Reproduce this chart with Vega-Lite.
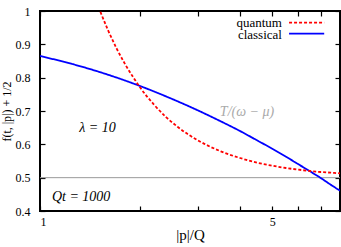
{
  "$schema": "https://vega.github.io/schema/vega-lite/v6.json",
  "width": 300,
  "height": 200,
  "autosize": {"type": "none"},
  "padding": {"left": 40, "top": 11, "right": 1, "bottom": 36},
  "background": "white",
  "config": {
    "view": {"stroke": "black", "strokeWidth": 2},
    "font": "Liberation Serif",
    "axis": {"domain": false, "tickColor": "black", "tickSize": 5, "tickWidth": 1.2, "offset": -5, "labelFont": "Liberation Serif", "labelFontSize": 12, "labelColor": "black", "titleFont": "Liberation Serif", "titleFontSize": 13, "titleFontWeight": "normal", "titleColor": "black", "grid": false}
  },
  "layer": [
    {
      "data": {"values": [{}]},
      "mark": {"type": "rule", "color": "#999999", "strokeWidth": 1},
      "encoding": {
        "y": {"datum": 0.5, "type": "quantitative", "scale": {"domain": [0.4, 1], "nice": false, "zero": false},
          "axis": {"orient": "right", "labels": false, "title": null, "values": [0.4, 0.5, 0.6, 0.7, 0.8, 0.9, 1]}}
      }
    },
    {
      "data": {"values": [
        {"p": 1, "f": 0.865, "series": "classical"},
        {"p": 1.25, "f": 0.841, "series": "classical"},
        {"p": 1.5, "f": 0.818, "series": "classical"},
        {"p": 1.75, "f": 0.796, "series": "classical"},
        {"p": 2, "f": 0.775, "series": "classical"},
        {"p": 2.5, "f": 0.736, "series": "classical"},
        {"p": 3, "f": 0.701, "series": "classical"},
        {"p": 3.5, "f": 0.669, "series": "classical"},
        {"p": 4, "f": 0.64, "series": "classical"},
        {"p": 4.5, "f": 0.612, "series": "classical"},
        {"p": 5, "f": 0.587, "series": "classical"},
        {"p": 5.5, "f": 0.563, "series": "classical"},
        {"p": 6, "f": 0.54, "series": "classical"},
        {"p": 6.5, "f": 0.519, "series": "classical"},
        {"p": 7, "f": 0.499, "series": "classical"},
        {"p": 7.5, "f": 0.479, "series": "classical"},
        {"p": 8, "f": 0.461, "series": "classical"},
        {"p": 1.5, "f": 1.012, "series": "quantum"},
        {"p": 1.6, "f": 0.944, "series": "quantum"},
        {"p": 1.7, "f": 0.888, "series": "quantum"},
        {"p": 1.8, "f": 0.842, "series": "quantum"},
        {"p": 1.9, "f": 0.804, "series": "quantum"},
        {"p": 2.0, "f": 0.771, "series": "quantum"},
        {"p": 2.2, "f": 0.72, "series": "quantum"},
        {"p": 2.4, "f": 0.681, "series": "quantum"},
        {"p": 2.6, "f": 0.652, "series": "quantum"},
        {"p": 2.8, "f": 0.629, "series": "quantum"},
        {"p": 3.0, "f": 0.611, "series": "quantum"},
        {"p": 3.5, "f": 0.579, "series": "quantum"},
        {"p": 4.0, "f": 0.559, "series": "quantum"},
        {"p": 4.5, "f": 0.545, "series": "quantum"},
        {"p": 5.0, "f": 0.536, "series": "quantum"},
        {"p": 5.5, "f": 0.529, "series": "quantum"},
        {"p": 6.0, "f": 0.524, "series": "quantum"},
        {"p": 6.5, "f": 0.52, "series": "quantum"},
        {"p": 7.0, "f": 0.517, "series": "quantum"},
        {"p": 7.5, "f": 0.515, "series": "quantum"},
        {"p": 8, "f": 0.513, "series": "quantum"}
      ]},
      "mark": {"type": "line", "strokeWidth": 1.8, "clip": true, "interpolate": "monotone"},
      "encoding": {
        "x": {"field": "p", "type": "quantitative",
          "scale": {"type": "log", "domain": [1, 8], "nice": false},
          "axis": {"orient": "bottom", "values": [1, 2, 3, 4, 5, 6, 7, 8], "labelExpr": "datum.value == 1 || datum.value == 5 ? datum.label : ''", "title": "|p|/Q", "titleFontSize": 15, "titlePadding": 0, "labelPadding": 5}},
        "y": {"field": "f", "type": "quantitative",
          "scale": {"domain": [0.4, 1], "nice": false, "zero": false},
          "axis": {"orient": "left", "values": [0.4, 0.5, 0.6, 0.7, 0.8, 0.9, 1], "labelExpr": "datum.value == 1 ? '1' : format(datum.value, '.1f')", "title": "f(t, |p|) + 1/2", "titleFontSize": 12, "titlePadding": 2, "labelPadding": 10}},
        "color": {"field": "series", "type": "nominal",
          "scale": {"domain": ["quantum", "classical"], "range": ["#ff0000", "#0000ff"]},
          "legend": null},
        "strokeDash": {"field": "series", "type": "nominal",
          "scale": {"domain": ["quantum", "classical"], "range": [[3, 2], [1, 0]]},
          "legend": null},
        "order": {"field": "p", "type": "quantitative"}
      }
    },
    {
      "data": {"values": [{}]},
      "mark": {"type": "rule", "color": "#ff0000", "strokeWidth": 1.8, "strokeDash": [3, 2]},
      "encoding": {
        "x": {"datum": 5.62, "type": "quantitative",
          "axis": {"orient": "top", "labels": false, "title": null, "values": [1, 2, 3, 4, 5, 6, 7, 8]}},
        "x2": {"datum": 7.17},
        "y": {"datum": 0.965, "type": "quantitative", "axis": null}
      }
    },
    {
      "data": {"values": [{}]},
      "mark": {"type": "rule", "color": "#0000ff", "strokeWidth": 1.8},
      "encoding": {
        "x": {"datum": 5.62, "type": "quantitative", "axis": null},
        "x2": {"datum": 7.17},
        "y": {"datum": 0.932, "type": "quantitative", "axis": null}
      }
    },
    {
      "data": {"values": [{}]},
      "mark": {"type": "text", "fontSize": 13, "color": "black", "font": "Liberation Serif", "align": "right", "baseline": "middle"},
      "encoding": {
        "x": {"datum": 5.35, "type": "quantitative", "axis": null},
        "y": {"datum": 0.965, "type": "quantitative", "axis": null},
        "text": {"value": "quantum"}
      }
    },
    {
      "data": {"values": [{}]},
      "mark": {"type": "text", "fontSize": 13, "color": "black", "font": "Liberation Serif", "align": "right", "baseline": "middle"},
      "encoding": {
        "x": {"datum": 5.35, "type": "quantitative", "axis": null},
        "y": {"datum": 0.929, "type": "quantitative", "axis": null},
        "text": {"value": "classical"}
      }
    },
    {
      "data": {"values": [{}]},
      "mark": {"type": "text", "fontStyle": "italic", "fontSize": 14, "color": "black", "font": "Liberation Serif"},
      "encoding": {
        "x": {"datum": 1.49, "type": "quantitative", "axis": null},
        "y": {"datum": 0.649, "type": "quantitative", "axis": null},
        "text": {"value": "λ = 10"}
      }
    },
    {
      "data": {"values": [{}]},
      "mark": {"type": "text", "fontStyle": "italic", "fontSize": 14, "color": "black", "font": "Liberation Serif"},
      "encoding": {
        "x": {"datum": 1.33, "type": "quantitative", "axis": null},
        "y": {"datum": 0.442, "type": "quantitative", "axis": null},
        "text": {"value": "Qt = 1000"}
      }
    },
    {
      "data": {"values": [{}]},
      "mark": {"type": "text", "fontStyle": "italic", "fontSize": 14, "color": "#aaaaaa", "font": "Liberation Serif"},
      "encoding": {
        "x": {"datum": 4.2, "type": "quantitative", "axis": null},
        "y": {"datum": 0.698, "type": "quantitative", "axis": null},
        "text": {"value": "T/(ω − μ)"}
      }
    }
  ],
  "resolve": {"axis": {"x": "independent", "y": "independent"}}
}
